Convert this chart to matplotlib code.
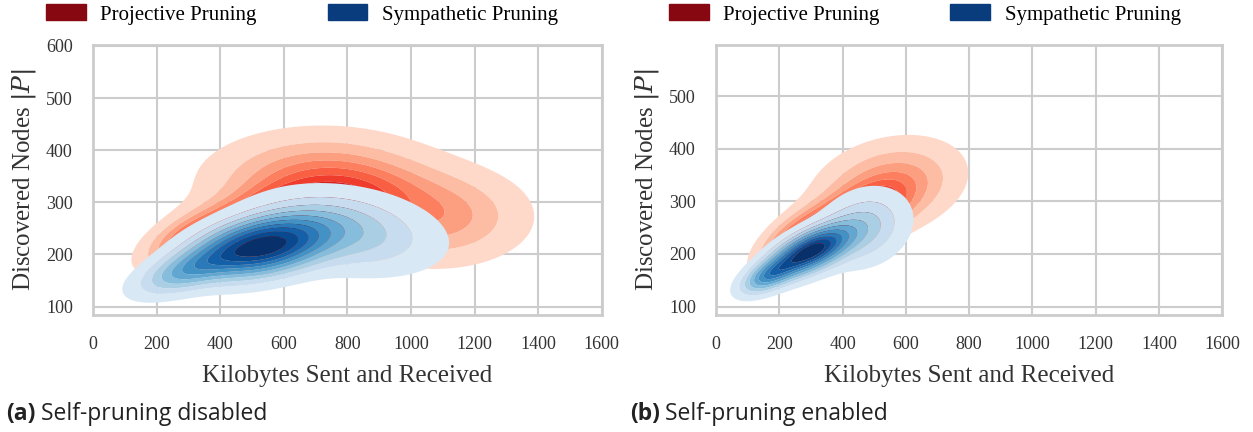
import numpy as np
import matplotlib
matplotlib.use("Agg")
import matplotlib.pyplot as plt
from matplotlib.patches import Patch

plt.rcParams["mathtext.fontset"] = "dejavuserif"

# mixture components (kilobytes, discovered nodes)
# (a) self-pruning disabled
red_a_mx = [620, 720, 1080, 300]
red_a_my = [262, 338, 272, 230]
red_a_sx = [160, 200, 170, 90]
red_a_sy = [42, 55, 55, 35]
red_a_rho = [0.4, 0.0, 0.0, 0.6]
red_a_w = [0.46, 0.3, 0.18, 0.06]

blue_a_mx = [530, 300, 800]
blue_a_my = [214, 170, 245]
blue_a_sx = [130, 100, 170]
blue_a_sy = [36, 30, 48]
blue_a_rho = [0.35, 0.6, -0.25]
blue_a_w = [0.6, 0.12, 0.28]

# (b) self-pruning enabled
red_b_mx = [420, 545, 250]
red_b_my = [262, 330, 225]
red_b_sx = [100, 130, 70]
red_b_sy = [40, 50, 35]
red_b_rho = [0.6, 0.25, 0.6]
red_b_w = [0.52, 0.33, 0.15]

blue_b_mx = [300, 170, 470]
blue_b_my = [205, 160, 250]
blue_b_sx = [80, 55, 85]
blue_b_sy = [30, 22, 44]
blue_b_rho = [0.6, 0.6, 0.2]
blue_b_w = [0.6, 0.15, 0.25]

x_ticks = [0, 200, 400, 600, 800, 1000, 1200, 1400, 1600]
y_ticks = [100, 200, 300, 400, 500, 600]
legend_labels = ["Projective Pruning", "Sympathetic Pruning"]
captions = [("(a)", "Self-pruning disabled"), ("(b)", "Self-pruning enabled")]

SERIF = "Liberation Serif"
GRID = "#cccccc"


def mixture_density(xx, yy, mx, my, sx, sy, rho, w):
    z = np.zeros_like(xx)
    for m1, m2, s1, s2, r, wk in zip(mx, my, sx, sy, rho, w):
        u = (xx - m1) / s1
        v = (yy - m2) / s2
        q = (u * u - 2 * r * u * v + v * v) / (1 - r * r)
        z += wk * np.exp(-0.5 * q) / (2 * np.pi * s1 * s2 * np.sqrt(1 - r * r))
    return z


def iso_levels(z, n=11, thresh=0.05):
    # density values enclosing given proportions of the mass (like seaborn)
    vals = np.sort(z.ravel())
    cum = np.cumsum(vals)
    cum /= cum[-1]
    props = np.linspace(thresh, 1, n)[:-1]
    lv = [np.interp(p, cum, vals) for p in props]
    return lv + [z.max() * 1.001]


def kde_fill(ax, params, cmap):
    gx = np.linspace(-100, 1800, 400)
    gy = np.linspace(0, 700, 400)
    xx, yy = np.meshgrid(gx, gy)
    z = mixture_density(xx, yy, *params)
    lv = iso_levels(z)
    cols = cmap(np.linspace(0.15, 1.0, len(lv) - 1))
    ax.contourf(xx, yy, z, levels=lv, colors=cols, antialiased=True)


fig = plt.figure(figsize=(12.53, 4.32), dpi=100)
axes = [fig.add_axes([0.0742, 0.271, 0.406, 0.625]),
        fig.add_axes([0.5714, 0.271, 0.404, 0.625])]

panels = [
    ((red_a_mx, red_a_my, red_a_sx, red_a_sy, red_a_rho, red_a_w),
     (blue_a_mx, blue_a_my, blue_a_sx, blue_a_sy, blue_a_rho, blue_a_w), 602),
    ((red_b_mx, red_b_my, red_b_sx, red_b_sy, red_b_rho, red_b_w),
     (blue_b_mx, blue_b_my, blue_b_sx, blue_b_sy, blue_b_rho, blue_b_w), 598),
]

for i, (ax, (rp, bp, ytop)) in enumerate(zip(axes, panels)):
    ax.set_axisbelow(True)
    ax.grid(True, color=GRID, linewidth=1.5)
    kde_fill(ax, rp, plt.cm.Reds)
    kde_fill(ax, bp, plt.cm.Blues)
    ax.set_xlim(0, 1600)
    ax.set_ylim(84, ytop)
    ax.set_xticks(x_ticks)
    ax.set_yticks([t for t in y_ticks if t <= ytop])
    for s in ax.spines.values():
        s.set_color(GRID)
        s.set_linewidth(2)
    ax.tick_params(axis="x", length=0, pad=15, labelsize=13)
    ax.tick_params(axis="y", length=0, pad=14.5, labelsize=13)
    for lab in ax.get_xticklabels() + ax.get_yticklabels():
        lab.set_family(SERIF)
        lab.set_color("#333333")
    ax.set_xlabel("Kilobytes Sent and Received", family=SERIF, fontsize=18,
                  color="#333333", labelpad=9)
    ax.set_ylabel("Discovered Nodes $|P|$", family=SERIF, fontsize=18,
                  color="#333333", labelpad=6)

    handles = [Patch(color=plt.cm.Reds(0.93)), Patch(color=plt.cm.Blues(0.95))]
    x0 = 0.022 + 0.497 * i
    fig.legend(handles, legend_labels, loc="upper left",
               bbox_to_anchor=(x0, 1.033), ncol=2, frameon=False,
               prop={"family": SERIF, "size": 15}, handlelength=1.9,
               handleheight=0.8, columnspacing=3.4, handletextpad=0.7)

    tag, text = captions[i]
    cx = 0.005 + 0.498 * i
    t1 = fig.text(cx, 0.028, tag, family="Open Sans", weight="bold", fontsize=16.5,
                  color="#222222")
    fig.canvas.draw()
    bb = t1.get_window_extent()
    fig.text(bb.x1 / fig.bbox.width + 0.004, 0.028, text, family="Open Sans",
             fontsize=16.5, color="#222222")

fig.savefig("out.png", dpi=100)
